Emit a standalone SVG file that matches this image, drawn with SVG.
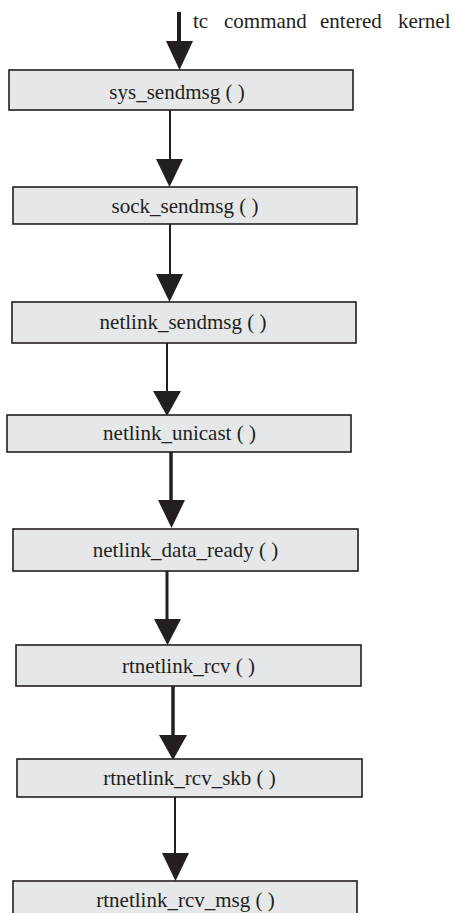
<svg xmlns="http://www.w3.org/2000/svg" width="454" height="913" viewBox="0 0 454 913">
<style>
.box{fill:#e6e7e8;stroke:#231f20;stroke-width:1.6}
.lbl{font-family:"Liberation Serif","Times New Roman",serif;font-size:21px;fill:#231f20;text-anchor:middle}
.top{font-family:"Liberation Serif","Times New Roman",serif;font-size:21px;fill:#231f20}
.ln{stroke:#231f20;fill:none}
.head{fill:#231f20}
</style>
<rect width="454" height="913" fill="#ffffff"/>
<g id="connectors">
<line class="ln" x1="179" y1="12" x2="179" y2="45" stroke-width="4"/>
<polygon class="head" points="166,41 193,41 179.5,70"/>
<line class="ln" x1="170" y1="110" x2="170" y2="162" stroke-width="2"/>
<polygon class="head" points="156,159 183,159 169.5,187"/>
<line class="ln" x1="170" y1="224" x2="170" y2="277" stroke-width="2"/>
<polygon class="head" points="156,274 183,274 169.5,302"/>
<line class="ln" x1="167" y1="343" x2="167" y2="394" stroke-width="2"/>
<polygon class="head" points="153,391 181,391 167,416"/>
<line class="ln" x1="171" y1="452" x2="171" y2="503" stroke-width="3.5"/>
<polygon class="head" points="158,500 185,500 171.5,528"/>
<line class="ln" x1="167" y1="571" x2="167" y2="622" stroke-width="3"/>
<polygon class="head" points="154,619 181,619 167.5,645"/>
<line class="ln" x1="173" y1="686" x2="173" y2="738" stroke-width="3.5"/>
<polygon class="head" points="159,735 187,735 173,760"/>
<line class="ln" x1="175" y1="797" x2="175" y2="856" stroke-width="2"/>
<polygon class="head" points="162,853 189,853 175.5,881"/>
</g>
<g id="entry-label">
<text class="top" y="28"><tspan x="193">tc</tspan><tspan x="224">command</tspan><tspan x="320">entered</tspan><tspan x="398">kernel</tspan></text>
</g>
<g id="sys_sendmsg">
<rect class="box" x="9" y="70" width="344" height="40"/>
<text class="lbl" x="177" y="99">sys_sendmsg ( )</text>
</g>
<g id="sock_sendmsg">
<rect class="box" x="13" y="187" width="344" height="37"/>
<text class="lbl" x="185" y="213">sock_sendmsg ( )</text>
</g>
<g id="netlink_sendmsg">
<rect class="box" x="12" y="302" width="344" height="41"/>
<text class="lbl" x="183" y="329">netlink_sendmsg ( )</text>
</g>
<g id="netlink_unicast">
<rect class="box" x="7" y="415" width="344" height="37"/>
<text class="lbl" x="179.5" y="440">netlink_unicast ( )</text>
</g>
<g id="netlink_data_ready">
<rect class="box" x="13" y="529" width="345" height="42"/>
<text class="lbl" x="185.5" y="557">netlink_data_ready ( )</text>
</g>
<g id="rtnetlink_rcv">
<rect class="box" x="16" y="645" width="345" height="41"/>
<text class="lbl" x="188.5" y="673">rtnetlink_rcv ( )</text>
</g>
<g id="rtnetlink_rcv_skb">
<rect class="box" x="17" y="759" width="345" height="38"/>
<text class="lbl" x="189.5" y="785">rtnetlink_rcv_skb ( )</text>
</g>
<g id="rtnetlink_rcv_msg">
<rect class="box" x="13" y="881" width="344" height="40"/>
<text class="lbl" x="185.5" y="907">rtnetlink_rcv_msg ( )</text>
</g>
</svg>
